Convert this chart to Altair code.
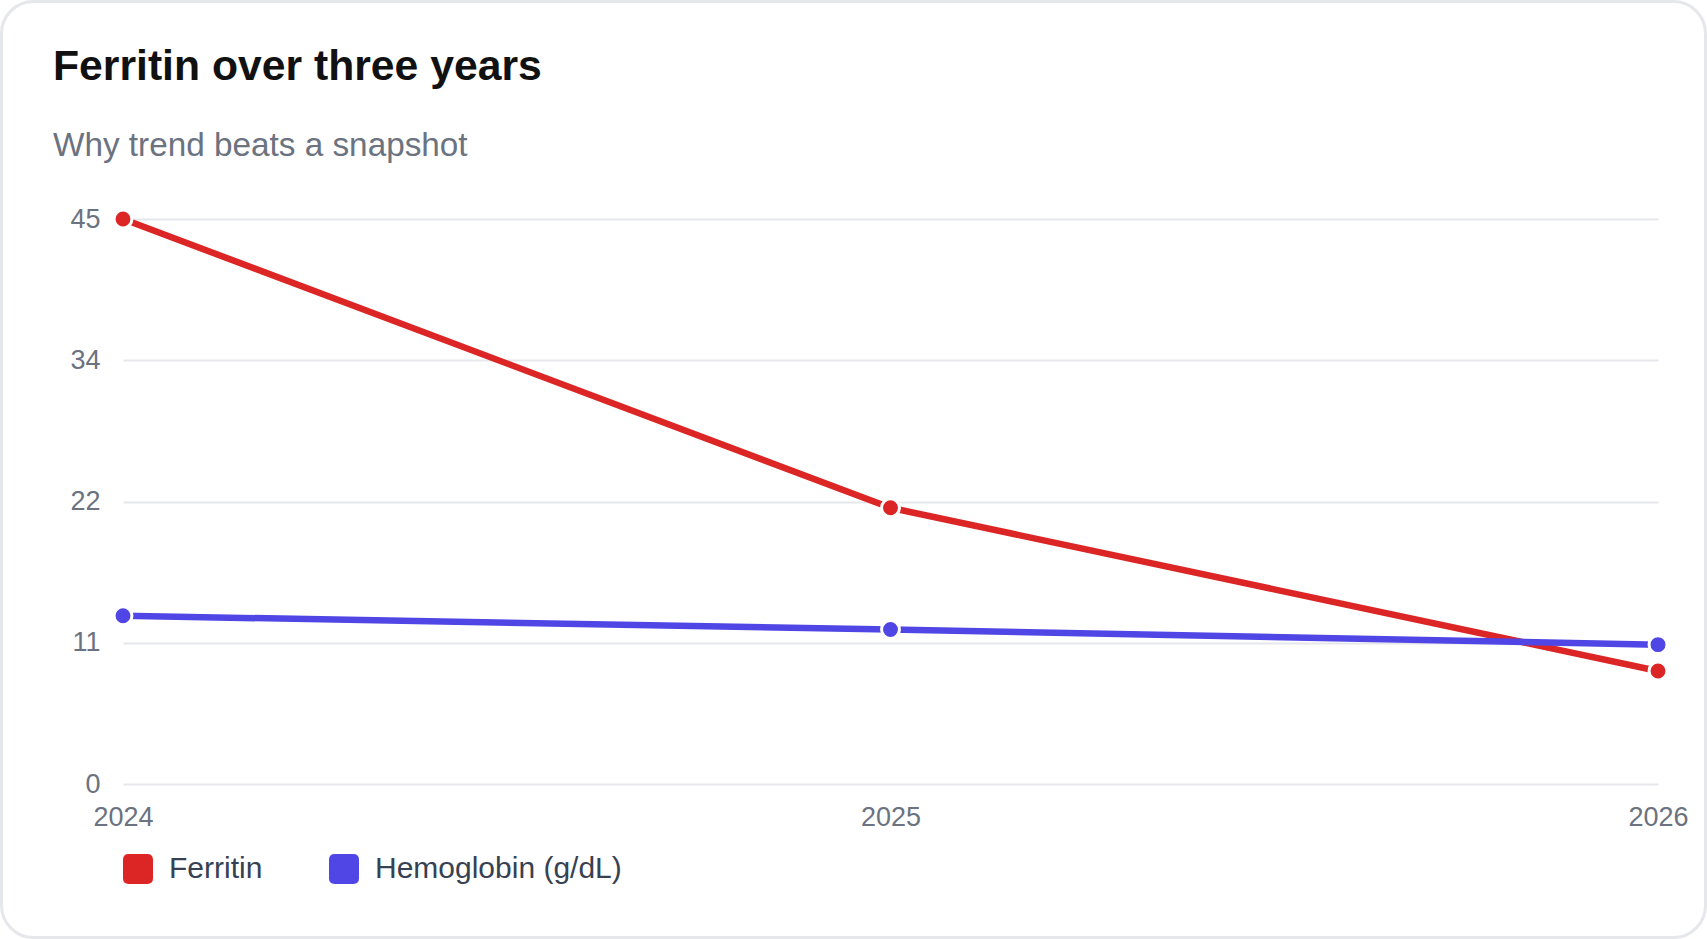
import altair as alt
import pandas as pd

# ---- data ----
years = [2024, 2025, 2026]
ferritin = [45, 22, 9]
hemoglobin = [13.4, 12.3, 11.1]
series_names = ["Ferritin", "Hemoglobin (g/dL)"]
series_colors = ["#dc2626", "#4f46e5"]
y_tick_values = [0, 11.25, 22.5, 33.75, 45]
y_tick_labels = ["0", "11", "22", "34", "45"]

rows = []
for yr, f, h in zip(years, ferritin, hemoglobin):
    rows.append({"year": str(yr), "series": series_names[0], "value": f})
    rows.append({"year": str(yr), "series": series_names[1], "value": h})
df = pd.DataFrame(rows)

label_expr = "''"
for v, lab in reversed(list(zip(y_tick_values, y_tick_labels))):
    label_expr = f"datum.value == {v} ? '{lab}' : ({label_expr})"

FONT = "Liberation Sans"
W, H = 1535, 565
PAD = {"left": 123, "top": 219, "right": 49, "bottom": 155}

ROUNDED = ("M -0.62 -1 L 0.62 -1 Q 1 -1 1 -0.62 L 1 0.62 Q 1 1 0.62 1 "
           "L -0.62 1 Q -1 1 -1 0.62 L -1 -0.62 Q -1 -1 -0.62 -1 Z")

legend = alt.Legend(
    title=None, orient="none", legendX=0, legendY=635, direction="horizontal",
    symbolType=ROUNDED, symbolSize=900, symbolStrokeWidth=0, symbolOpacity=1,
    labelFont=FONT, labelFontSize=30, labelColor="#374151", labelOffset=16,
    labelLimit=500, columnPadding=66, padding=0,
)

# colour scale used by the points (and the legend)
color_scale = alt.Scale(domain=series_names, range=series_colors)
# same mapping for the lines, listed in reverse so it stays a separate (legend-less) scale
stroke_scale = alt.Scale(domain=series_names[::-1], range=series_colors[::-1])

x = alt.X("year:O", sort=[str(v) for v in years],
          scale=alt.Scale(type="point", padding=0),
          axis=alt.Axis(title=None, grid=False, domain=False, ticks=False,
                        labelAngle=0, labelOverlap=False,
                        labelFont=FONT, labelFontSize=27, labelColor="#6b7280",
                        labelPadding=20))
y = alt.Y("value:Q", scale=alt.Scale(domain=[0, 45], nice=False),
          axis=alt.Axis(values=y_tick_values, labelExpr=label_expr, title=None,
                        grid=True, gridColor="#e5e7eb", gridWidth=2,
                        domain=False, ticks=False, labelFont=FONT, labelFontSize=27,
                        labelColor="#6b7280", labelPadding=23))

base = alt.Chart(df).encode(x=x, y=y, detail="series:N")
lines = base.mark_line(strokeWidth=6.5, clip=False).encode(
    stroke=alt.Stroke("series:N", scale=stroke_scale, legend=None))
points = base.mark_point(filled=True, size=320, stroke="white", strokeWidth=3,
                         opacity=1, clip=False).encode(
    color=alt.Color("series:N", scale=color_scale, legend=legend))

card = alt.Chart(alt.Data(values=[{"k": 1}])).mark_rect(
    fillOpacity=0, stroke="#e5e7eb", strokeWidth=3, cornerRadius=32, clip=False
).encode(
    x=alt.value(-121.5), x2=alt.value(W + 47.5),
    y=alt.value(-217.5), y2=alt.value(H + 153.5),
)

chart = alt.layer(card, lines, points).properties(
    width=W, height=H,
    autosize=alt.AutoSizeParams(type="none"),
    padding=PAD,
    background="white",
    title=alt.TitleParams(
        text="Ferritin over three years",
        subtitle="Why trend beats a snapshot",
        anchor="start", frame="group", dx=-70, dy=162, offset=0,
        font=FONT, fontSize=42.7, fontWeight="bold", color="#111111",
        subtitleFont=FONT, subtitleFontSize=33.3, subtitleColor="#6b7280",
        subtitlePadding=41,
    ),
).configure_view(stroke=None)

chart.save("out.html", embed_options={"renderer": "svg", "actions": False})
